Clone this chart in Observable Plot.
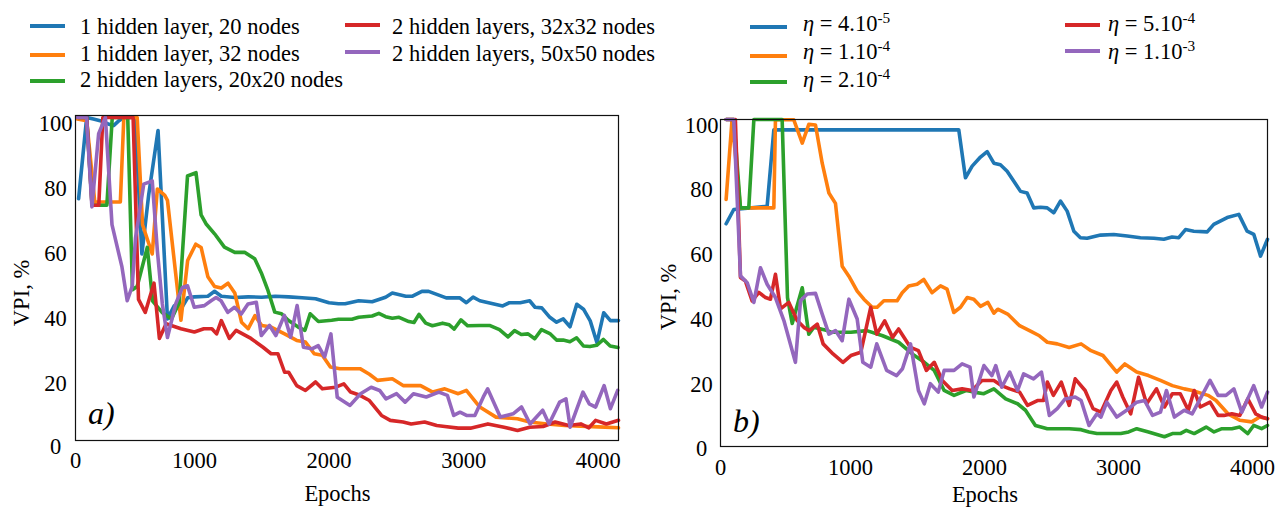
<!DOCTYPE html>
<html><head><meta charset="utf-8">
<script src="https://cdn.jsdelivr.net/npm/d3@7"></script>
<script src="https://cdn.jsdelivr.net/npm/@observablehq/plot@0.6"></script>
<style>
body{margin:0;background:#fff;font-family:"Liberation Serif","Times New Roman",serif;color:#000}
#root{position:relative;width:1282px;height:508px;overflow:hidden;background:#fff}
.abs{position:absolute;white-space:nowrap}
.txt{font-size:22.5px;line-height:22.5px}
.sw{position:absolute;height:4px}
sup{font-size:0.68em;vertical-align:0.55em;line-height:0}
.svgwrap{position:absolute;top:100px}
</style></head><body><div id="root"></div>
<script>
// ---------- data ----------
const colors = ["#1f77b4", "#ff7f0e", "#2ca02c", "#d62728", "#9467bd"];
const namesA = ["1 hidden layer, 20 nodes", "1 hidden layer, 32 nodes", "2 hidden layers, 20x20 nodes", "2 hidden layers, 32x32 nodes", "2 hidden layers, 50x50 nodes"];
const etaMantissa = ["4", "1", "2", "5", "1"];
const etaExponent = ["-5", "-4", "-4", "-4", "-3"];
const epochTicks = [0, 1000, 2000, 3000, 4000];
const vpiTicks = [0, 20, 40, 60, 80, 100];

// panel a) [epoch, VPI %]
const a_h1n20 = [[140,75],[200,100],[250,99.5],[300,99],[360,98],[400,97.5],[440,99],[480,100],[560,100],[610,58],[660,76],[730,96],[800,38],[850,42],[900,41],[950,44.5],[1000,44.8],[1100,45],[1150,46.5],[1200,45],[1300,44.6],[1400,44.8],[1500,44.7],[1600,45],[1700,44.8],[1800,44.5],[1900,44.2],[2000,43],[2070,42.7],[2120,42.7],[2220,43.6],[2320,43.3],[2420,44.7],[2470,46],[2570,45],[2620,45],[2690,46.5],[2740,46.5],[2870,44.5],[2970,44.5],[3020,43],[3070,44.7],[3120,43.6],[3290,42],[3340,43],[3420,43],[3490,43.6],[3530,41.6],[3580,41.4],[3640,38.5],[3690,37],[3740,38],[3790,35.6],[3840,42.5],[3890,41],[3940,37.4],[3990,30.7],[4040,39.9],[4090,37.5],[4150,37.5]];
const a_h1n32 = [[130,99.5],[200,99],[260,74],[350,74],[450,74],[476,100],[575,100],[615,67],[687,58],[725,78],[780,76],[800,74.5],[900,37.6],[950,56],[1010,61],[1050,60],[1100,51],[1150,48],[1200,47.5],[1250,49],[1300,46],[1350,37],[1400,35],[1450,39],[1500,36],[1570,35.5],[1670,33.4],[1760,31.4],[1825,30.9],[1890,27.3],[1950,26.8],[2010,23.2],[2080,22.7],[2230,22.7],[2300,21],[2360,19.1],[2470,19.6],[2550,17.5],[2680,17.5],[2770,15.5],[2860,16.5],[2960,15],[3020,16],[3120,10.9],[3240,7.8],[3400,7.3],[3490,6.3],[3620,5.7],[3750,5.2],[3870,5],[4000,4.8],[4150,4.5]];
const a_h2n20 = [[140,100],[200,100],[240,73],[350,73],[390,100],[505,100],[540,47],[575,48],[650,60],[690,43.5],[760,40],[830,38],[887,43],[949,82],[1012,83],[1050,70],[1086,67.3],[1150,64.2],[1223,60.1],[1300,58.5],[1373,58.5],[1448,56.5],[1500,51.9],[1547,46.7],[1597,40.1],[1647,39.6],[1697,37.6],[1771,35.5],[1821,34.5],[1860,39.6],[1921,37.2],[2020,37.6],[2070,37.9],[2170,37.9],[2220,38.5],[2320,38.9],[2370,39.7],[2420,38.7],[2470,38.2],[2520,38.5],[2593,37.2],[2631,36.9],[2668,39.4],[2718,36.7],[2768,35.9],[2843,36.7],[2893,36.2],[2930,34.9],[2980,37.7],[3030,35.9],[3117,36],[3192,36],[3266,34.7],[3329,32.5],[3378,34.4],[3428,33.2],[3478,33.4],[3528,31.9],[3578,34.7],[3640,33.5],[3690,31.5],[3739,31.5],[3789,31],[3839,32.2],[3889,29.7],[3938,29.5],[3988,29.9],[4038,31.7],[4088,29.7],[4146,29.2]];
const a_h2n32 = [[140,100],[200,100],[240,73],[290,73],[320,100],[400,100],[545,100],[585,44],[635,40],[700,49],[740,32],[790,36.5],[900,35],[1000,34],[1070,35],[1130,35],[1165,33.4],[1200,37.5],[1260,32],[1310,34.5],[1420,32],[1510,29.3],[1570,27.3],[1620,27.3],[1670,21.6],[1700,21.6],[1760,17.5],[1825,16],[1900,18.6],[1950,16.5],[2050,17],[2110,18],[2160,15.5],[2230,14.5],[2300,12.9],[2390,8.3],[2455,6.8],[2550,6.3],[2610,5.7],[2710,6.3],[2800,5.2],[2860,4.9],[2960,4.4],[3050,4.4],[3180,5.7],[3300,4.7],[3400,3.7],[3490,4.7],[3590,4.9],[3680,6.3],[3780,5.2],[3870,5.7],[3930,4.5],[3980,6.8],[4060,5.7],[4150,6.8]];
const a_h2n50 = [[130,100],[199,100],[239,72.5],[289,95],[339,100],[388,67],[462,54],[501,43.6],[538,48],[563,63],[624,79.5],[687,80.5],[725,59],[762,42.6],[800,32.3],[861,42.6],[911,47.7],[949,48.2],[999,41.6],[1074,42.1],[1124,43.6],[1161,44.6],[1198,43.6],[1248,40],[1298,41.6],[1348,39.5],[1398,42.6],[1460,43.1],[1497,32.9],[1558,36],[1605,32.9],[1668,39.1],[1715,32.4],[1763,42.1],[1810,29.3],[1873,28.8],[1920,29.8],[1967,26.3],[2014,33.4],[2061,13.9],[2156,11.4],[2234,15],[2313,17],[2376,16],[2423,13.4],[2502,15],[2565,12.4],[2627,15],[2722,14],[2816,15.5],[2879,14.5],[2926,8.3],[2973,9.3],[3021,8.3],[3083,8.3],[3146,14],[3178,16.5],[3272,7.8],[3367,8.8],[3430,10.9],[3493,5.7],[3587,9.9],[3634,5.7],[3713,12.4],[3760,13.4],[3791,4.7],[3886,15.5],[3933,11.9],[3980,10.9],[4043,17.5],[4090,10.4],[4144,16]];

// panel b) [epoch, VPI %]
const b_eta4e5 = [[72,67.8],[129,72.2],[378,73.2],[428,96.8],[1808,96.8],[1858,82],[1908,85.6],[1970,88.4],[2020,90.1],[2070,86.5],[2119,86],[2169,84],[2219,80.9],[2269,77.8],[2318,77.3],[2368,72.7],[2418,72.9],[2468,72.7],[2517,71.2],[2567,74.8],[2617,71.7],[2667,65.5],[2716,63.5],[2766,63.3],[2866,64.3],[2965,64.5],[3065,64],[3164,63.5],[3264,63.3],[3338,63],[3400,63.7],[3450,63.5],[3500,66],[3562,65.5],[3662,65.3],[3711,67.6],[3811,69.7],[3898,70.7],[3960,65.5],[4010,64.5],[4060,57.8],[4112,63]];
const b_eta1e4 = [[72,75.3],[116,99.9],[179,72.7],[428,72.7],[440,99.9],[577,99.9],[640,92.7],[689,98.5],[739,98.3],[789,86.5],[839,77.3],[888,74.1],[938,54.7],[988,51.6],[1050,47],[1100,44.5],[1162,42],[1199,42],[1249,44],[1299,44],[1348,44],[1386,46.5],[1435,48.6],[1497,49.1],[1547,50.6],[1609,46.5],[1672,48.6],[1721,47.6],[1771,40.4],[1821,42],[1871,45],[1920,44.5],[1970,42.3],[2025,43.5],[2070,40.2],[2099,41.4],[2173,39.9],[2262,36.3],[2336,34.8],[2410,33.2],[2469,31.2],[2543,30.7],[2632,29.6],[2721,30.7],[2795,28.6],[2884,27.1],[2987,22],[3047,24.5],[3136,22],[3224,20.9],[3313,19.4],[3402,17.8],[3491,16.8],[3550,16.3],[3668,14.8],[3728,13.2],[3817,9.1],[3905,7.1],[3994,6.6],[4054,8.1],[4112,7.6]];
const b_eta2e4 = [[72,100],[129,100],[179,72.7],[241,72.7],[279,100],[490,100],[530,45],[565,37],[640,48],[689,33.7],[726,35.8],[826,34.8],[855,34.3],[1003,34.3],[1122,34.8],[1240,33.2],[1359,31.2],[1477,27.1],[1551,25],[1625,22.5],[1699,16.3],[1773,14.8],[1862,16.3],[1921,15.8],[1995,15.3],[2070,16.8],[2158,13.7],[2247,12.2],[2306,10.2],[2380,5.5],[2469,4.5],[2543,4.5],[2632,4.5],[2721,4.2],[2780,3.5],[2839,3],[2928,3],[3017,3],[3076,3.5],[3136,4.5],[3224,3.5],[3343,2],[3402,3],[3461,3],[3506,4],[3565,3],[3654,5],[3713,3.5],[3772,4.5],[3846,4.5],[3905,5],[3965,3],[4009,5.5],[4068,4.5],[4112,5.5]];
const b_eta5e4 = [[72,100],[141,100],[179,51.2],[216,50.1],[266,44],[316,46.6],[366,45],[403,44.5],[440,52.2],[478,41.5],[540,43.5],[602,37.9],[652,35.8],[692,34.8],[752,36.8],[796,30.7],[870,27.6],[944,25],[1003,27.1],[1077,28.1],[1151,42],[1196,33.7],[1255,37.8],[1314,32.7],[1359,35.3],[1448,29.6],[1507,28.6],[1566,22.5],[1625,25],[1685,19.4],[1759,16.3],[1833,16.8],[1907,16.3],[1981,19.4],[2070,19.4],[2129,17.8],[2188,16.8],[2262,15.8],[2321,11.7],[2395,13.2],[2440,13.2],[2469,18.9],[2514,14.8],[2573,18.9],[2632,11.7],[2677,19.9],[2751,16.3],[2810,10.7],[2869,9.6],[2943,16.3],[2987,18.9],[3032,14.3],[3091,9.1],[3150,20.4],[3210,12.2],[3284,16.8],[3343,11.2],[3402,15.3],[3461,15.3],[3521,10.2],[3565,16.3],[3610,11.2],[3683,12.7],[3743,8.6],[3787,8.6],[3846,9.1],[3905,8.6],[3965,13.7],[4024,9.1],[4068,8.1],[4112,7.6]];
const b_eta1e3 = [[72,100],[129,100],[179,51.7],[229,49.6],[279,43.5],[328,54.2],[378,49.1],[440,45],[503,37.9],[589,25],[627,44],[677,46.1],[739,46.3],[789,39.9],[839,33.7],[888,34.8],[938,31.7],[988,44.5],[1050,38.4],[1092,25],[1151,23.5],[1196,30.7],[1270,22.5],[1344,20.9],[1388,23],[1448,30.7],[1507,16.3],[1551,12.2],[1596,18.4],[1655,15.8],[1699,22.5],[1773,22.5],[1833,24.5],[1892,23.5],[1921,14.3],[1996,24],[2055,20.9],[2084,24],[2129,17.3],[2188,22],[2247,16.3],[2292,21.4],[2366,19.9],[2425,22],[2484,8.6],[2543,10.7],[2602,13.7],[2677,14.3],[2721,13.2],[2780,5.5],[2839,9.1],[2869,8.1],[2913,12.7],[2987,8.1],[3061,10.2],[3136,12.7],[3195,13.2],[3254,8.6],[3313,9.6],[3358,16.3],[3417,8.1],[3491,10.2],[3550,9.1],[3610,13.7],[3683,19.4],[3743,14.8],[3802,14.8],[3861,16.8],[3920,9.6],[4009,17.8],[4068,11.2],[4112,15.8]];

const seriesA = [a_h1n20, a_h1n32, a_h2n20, a_h2n32, a_h2n50];
const seriesB = [b_eta4e5, b_eta1e4, b_eta2e4, b_eta5e4, b_eta1e3];
const namesB = etaMantissa.map((m, i) => `η = ${m}.10^${etaExponent[i]}`);

// ---------- drawing ----------
const root = document.getElementById("root");
const FONT = '"Liberation Serif", "Times New Roman", serif';

function panel(series, names, o) {
  const data = series.flatMap((s, i) => s.map(([e, v]) => ({epoch: e, vpi: v, name: names[i]})));
  return Plot.plot({
    width: 641, height: 408,
    marginLeft: o.ml, marginRight: o.mr, marginTop: o.mt, marginBottom: o.mb,
    x: {domain: o.xd, clamp: true},
    y: {domain: o.yd, clamp: true},
    color: {domain: names, range: colors},
    style: {fontFamily: FONT, fontSize: "22.5px", color: "#000", background: "transparent", overflow: "visible"},
    marks: [
      Plot.line(data, {x: "epoch", y: "vpi", z: "name", stroke: "name", strokeWidth: 3.6}),
      Plot.frame({stroke: "#111", strokeWidth: 1.2}),
      Plot.axisX({ticks: epochTicks, tickSize: 0, tickPadding: o.xpad, label: null, tickFormat: d => String(d)}),
      Plot.axisY({ticks: vpiTicks, tickSize: 0, tickPadding: o.ypad, textAnchor: "middle", dy: 6, label: null, tickFormat: d => String(d)})
    ]
  });
}

function place(el, left) {
  const w = document.createElement("div");
  w.className = "svgwrap";
  w.style.left = left + "px";
  w.appendChild(el);
  root.appendChild(w);
}

place(panel(seriesA, namesA, {ml: 75, mr: 23, mt: 15, mb: 68, xd: [117, 4150], yd: [0.6, 100.6], xpad: 12, ypad: 20}), 0);
place(panel(seriesB, namesB, {ml: 79, mr: 15, mt: 19, mb: 62, xd: [30, 4112], yd: [-1, 100], xpad: 13, ypad: 19}), 641);

function text(html, left, baseline, size, extra) {
  const d = document.createElement("div");
  d.className = "abs";
  d.style.left = left + "px";
  d.style.fontSize = size + "px";
  d.style.lineHeight = size + "px";
  d.style.top = (baseline - 0.8375 * size) + "px";
  if (extra) Object.assign(d.style, extra);
  d.innerHTML = html;
  root.appendChild(d);
  return d;
}
function swatch(left, cy, w, color) {
  const s = document.createElement("div");
  s.className = "sw";
  s.style.left = left + "px";
  s.style.top = (cy - 2) + "px";
  s.style.width = w + "px";
  s.style.background = color;
  root.appendChild(s);
}

// legend a
const legA = [
  {sw: 30, w: 35, tx: 80, cy: [26, 55, 81], base: [34.5, 61.7, 88.3]},
  {sw: 345, w: 35, tx: 392, cy: [25, 52], base: [34.5, 61.7]}
];
namesA.forEach((n, i) => {
  const c = i < 3 ? legA[0] : legA[1], r = i < 3 ? i : i - 3;
  swatch(c.sw, c.cy[r], c.w, colors[i]);
  text(n, c.tx, c.base[r], 22.5);
});
// legend b
const legB = [
  {sw: 750, w: 37, tx: 803, cy: [27, 56, 82], base: [32, 60, 88]},
  {sw: 1065, w: 35, tx: 1108, cy: [25, 51], base: [32, 60]}
];
etaMantissa.forEach((m, i) => {
  const c = i < 3 ? legB[0] : legB[1], r = i < 3 ? i : i - 3;
  swatch(c.sw, c.cy[r], c.w, colors[i]);
  text(`<i>η</i> = ${m}.10<sup>${etaExponent[i]}</sup>`, c.tx, c.base[r], 22.5);
});

// axis titles
text("Epochs", 337.5, 502, 22.5, {transform: "translateX(-50%)"});
text("Epochs", 985, 503, 22.5, {transform: "translateX(-50%)"});
function vlabel(cx, cy) {
  const d = document.createElement("div");
  d.className = "abs txt";
  d.style.left = cx + "px";
  d.style.top = cy + "px";
  d.style.transform = "translate(-50%,-50%) rotate(-90deg)";
  d.textContent = "VPI, %";
  root.appendChild(d);
}
vlabel(22, 293);
vlabel(669, 297);
// panel tags
text("<i>a)</i>", 88, 424, 32);
text("<i>b)</i>", 733, 432, 32);
</script></body></html>
